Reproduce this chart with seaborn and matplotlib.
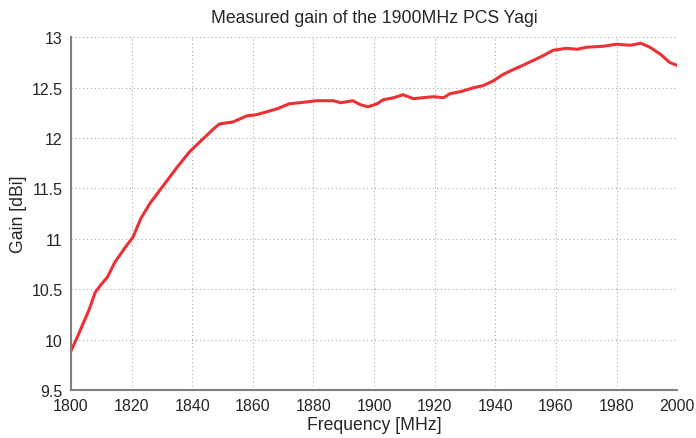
import matplotlib
matplotlib.use('Agg')
import matplotlib.pyplot as plt
import seaborn as sns
import pandas as pd

# Gain curve
freq = [1800, 1802, 1804, 1806, 1808, 1810, 1812, 1814.5, 1818, 1820.5, 1823, 1826,
        1830.5, 1835, 1839, 1843.5, 1847, 1849, 1853.5, 1858, 1861, 1864.5, 1868,
        1872, 1875.5, 1881, 1886.5, 1889, 1893, 1895.5, 1898, 1901, 1903, 1906.5,
        1909.5, 1913, 1916, 1919.5, 1923, 1925, 1928.5, 1933, 1936, 1939.5, 1942.5,
        1946, 1949, 1952.5, 1956, 1959, 1963.5, 1967, 1970, 1975.5, 1980, 1984.5,
        1988, 1991, 1994.5, 1997.5, 2000]
gain = [9.89, 10.02, 10.16, 10.30, 10.47, 10.55, 10.62, 10.77, 10.92, 11.02, 11.20,
        11.35, 11.53, 11.71, 11.86, 11.99, 12.09, 12.14, 12.16, 12.22, 12.23, 12.26,
        12.29, 12.34, 12.35, 12.37, 12.37, 12.35, 12.37, 12.33, 12.31, 12.34, 12.38,
        12.40, 12.43, 12.39, 12.40, 12.41, 12.40, 12.44, 12.46, 12.50, 12.52, 12.57,
        12.63, 12.68, 12.72, 12.77, 12.82, 12.87, 12.89, 12.88, 12.90, 12.91, 12.93,
        12.92, 12.94, 12.90, 12.83, 12.75, 12.72]

df = pd.DataFrame({'Frequency': freq, 'Gain': gain})

sns.set_style('white')
plt.rcParams['font.family'] = ['Liberation Sans', 'DejaVu Sans']

fig = plt.figure(figsize=(6.96, 4.39), dpi=100)
ax = fig.add_axes([0.102, 0.109, 0.871, 0.804])

sns.lineplot(x='Frequency', y='Gain', data=df, color='#ee3035', linewidth=2.2, ax=ax)

ax.set_xlim(1800, 2000)
ax.set_ylim(9.5, 13)
ax.set_xticks(range(1800, 2001, 20))
ax.set_yticks([9.5, 10, 10.5, 11, 11.5, 12, 12.5, 13])
ax.set_yticklabels(['9.5', '10', '10.5', '11', '11.5', '12', '12.5', '13'])
ax.grid(True, linestyle=(0, (1, 2.5)), color='#aaaaaa', linewidth=0.8)
ax.tick_params(direction='in', length=4, color='#808080', labelsize=11.5)
ax.tick_params(axis='x', pad=6)
ax.tick_params(axis='y', pad=6)

for side in ['top', 'right']:
    ax.spines[side].set_visible(False)
for side in ['left', 'bottom']:
    ax.spines[side].set_color('#808080')
    ax.spines[side].set_linewidth(1.5)

ax.set_title('Measured gain of the 1900MHz PCS Yagi', fontsize=12.7, pad=11)
ax.set_xlabel('Frequency [MHz]', fontsize=12.7, labelpad=2)
ax.set_ylabel('Gain [dBi]', fontsize=12.7, labelpad=3)

plt.savefig('out.png', dpi=100)
